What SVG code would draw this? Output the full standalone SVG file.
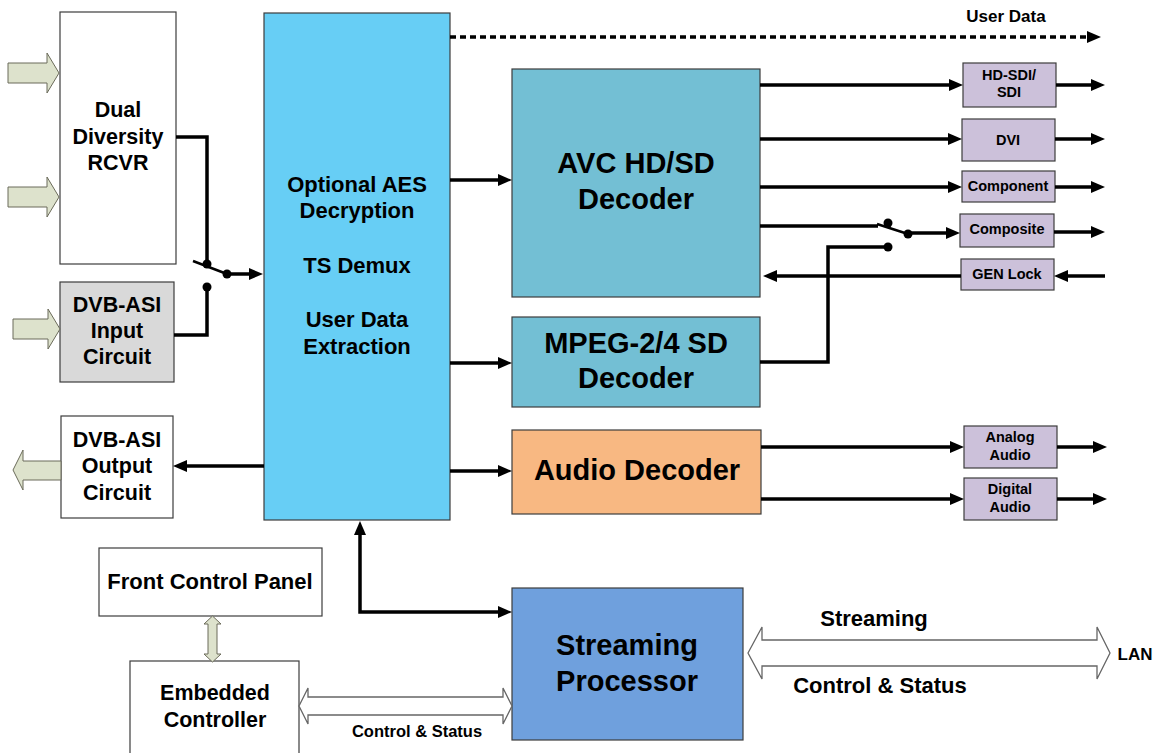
<svg xmlns="http://www.w3.org/2000/svg" width="1157" height="753" viewBox="0 0 1157 753">
<style>
text{font-family:"Liberation Sans",Arial,sans-serif;font-weight:bold;fill:#000;text-anchor:middle}
.box{stroke:#3c3c3c;stroke-width:1.2}
.w{fill:#fff}
.pur{fill:#ccc1da}
.t21{font-size:21.5px}
.t29{font-size:29px}
.t15{font-size:14.5px}
.ln{fill:none;stroke:#000;stroke-width:3.5}
.blk{fill:#dde2cc;stroke:#6b6b5a;stroke-width:1}
.wa{fill:#fff;stroke:#666;stroke-width:1.3}
</style>
<defs>
<marker id="ah" viewBox="0 0 14 12" refX="4" refY="6" markerWidth="14" markerHeight="12" markerUnits="userSpaceOnUse" orient="auto-start-reverse">
<path d="M0,0 L14,6 L0,12 z" fill="#000"/>
</marker>
</defs>
<rect width="1157" height="753" fill="#fff"/>

<g id="rcvr"><rect class="box w" x="60" y="12" width="116" height="252"/>
<text class="t21" x="118" y="117">Dual</text><text class="t21" x="118" y="144">Diversity</text><text class="t21" x="118" y="170">RCVR</text></g>
<g id="asi-in"><rect class="box" fill="#d9d9d9" x="60" y="282" width="114" height="100"/>
<text class="t21" x="117" y="312">DVB-ASI</text><text class="t21" x="117" y="338">Input</text><text class="t21" x="117" y="364">Circuit</text></g>
<g id="asi-out"><rect class="box w" x="61" y="416" width="112" height="102"/>
<text class="t21" x="117" y="447">DVB-ASI</text><text class="t21" x="117" y="473">Output</text><text class="t21" x="117" y="500">Circuit</text></g>
<g id="fcp"><rect class="box w" x="99" y="548" width="223" height="68"/>
<text x="210" y="589" font-size="22">Front Control Panel</text></g>
<g id="embedded"><rect class="box w" x="130" y="661" width="169" height="100"/>
<text class="t21" x="215" y="700">Embedded</text><text class="t21" x="215" y="727">Controller</text></g>
<g id="demux"><rect class="box" fill="#67cef5" x="264" y="13" width="186" height="507"/>
<text x="357" y="192" font-size="22">Optional AES</text><text x="357" y="218" font-size="22">Decryption</text>
<text x="357" y="273" font-size="22">TS Demux</text>
<text x="357" y="327" font-size="22">User Data</text><text x="357" y="354" font-size="22">Extraction</text></g>
<g id="avc"><rect class="box" fill="#73bfd4" x="512" y="69" width="248" height="228"/>
<text class="t29" x="636" y="173">AVC HD/SD</text><text class="t29" x="636" y="209">Decoder</text></g>
<g id="mpeg"><rect class="box" fill="#73bfd4" x="512" y="317" width="248" height="90"/>
<text class="t29" x="636" y="353">MPEG-2/4 SD</text><text class="t29" x="636" y="388">Decoder</text></g>
<g id="audio"><rect class="box" fill="#f8b882" x="512" y="430" width="249" height="84"/>
<text class="t29" x="637" y="480">Audio Decoder</text></g>
<g id="streaming"><rect class="box" fill="#6fa0dd" x="512" y="588" width="231" height="152"/>
<text class="t29" x="627" y="655">Streaming</text><text class="t29" x="627" y="691">Processor</text></g>
<g id="hdsdi"><rect class="box pur" x="963" y="63" width="93" height="44"/>
<text class="t15" x="1009" y="80">HD-SDI/</text><text class="t15" x="1009" y="97">SDI</text></g>
<g id="dvi"><rect class="box pur" x="962" y="119" width="93" height="42"/>
<text class="t15" x="1008" y="145">DVI</text></g>
<g id="component"><rect class="box pur" x="962" y="171" width="93" height="31"/>
<text class="t15" x="1008" y="191">Component</text></g>
<g id="composite"><rect class="box pur" x="960" y="214" width="94" height="33"/>
<text class="t15" x="1007" y="234">Composite</text></g>
<g id="genlock"><rect class="box pur" x="961" y="259" width="93" height="31"/>
<text class="t15" x="1007" y="279">GEN Lock</text></g>
<g id="analog"><rect class="box pur" x="964" y="426" width="93" height="42"/>
<text class="t15" x="1010" y="442">Analog</text><text class="t15" x="1010" y="460">Audio</text></g>
<g id="digital"><rect class="box pur" x="964" y="478" width="93" height="42"/>
<text class="t15" x="1010" y="494">Digital</text><text class="t15" x="1010" y="512">Audio</text></g>

<g id="connectors">
<polygon class="blk" points="8,63 47,63 47,53 59,73 47,93 47,83 8,83"/>
<polygon class="blk" points="8,187 47,187 47,177 59,197 47,217 47,207 8,207"/>
<polygon class="blk" points="13,319 48,319 48,309 60,329 48,349 48,339 13,339"/>
<polygon class="blk" points="13,470 23,450 23,461 61,461 61,480 23,480 23,490"/>
<polygon class="blk" points="212.5,616 221,624 217,624 217,654 221,654 212.5,662 204,654 208,654 208,624 204,624"/>
<polygon class="wa" points="299,706 308,688 308,697 503,697 503,688 512,706 503,724 503,715 308,715 308,724"/>
<polygon class="wa" points="748,653 762,627 762,640 1097,640 1097,627 1110,653 1097,679 1097,666 762,666 762,679"/>

<path class="ln" d="M176,137 H207 V264"/>
<path class="ln" d="M174,335 H207 V287"/>
<line x1="193" y1="261" x2="227" y2="274" stroke="#000" stroke-width="2.5"/>
<circle cx="207" cy="264" r="4.5"/><circle cx="227" cy="274" r="4.5"/><circle cx="207" cy="287" r="4.5"/>
<path class="ln" d="M227,274 H253" marker-end="url(#ah)"/>

<path class="ln" d="M450,180 H502" marker-end="url(#ah)"/>
<path class="ln" d="M450,363 H502" marker-end="url(#ah)"/>
<path class="ln" d="M450,471 H502" marker-end="url(#ah)"/>
<path class="ln" d="M264,466 H183" marker-end="url(#ah)"/>
<path class="ln" d="M360,531 V612 H502" marker-start="url(#ah)" marker-end="url(#ah)"/>
<path class="ln" d="M450,37 H1091" stroke-width="3" stroke-dasharray="6 4" marker-end="url(#ah)"/>

<path class="ln" d="M760,85 H953" marker-end="url(#ah)"/>
<path class="ln" d="M760,139 H952" marker-end="url(#ah)"/>
<path class="ln" d="M760,187 H952" marker-end="url(#ah)"/>
<path class="ln" d="M760,226 H878"/>
<line x1="877" y1="224" x2="908" y2="234" stroke="#000" stroke-width="2.5"/>
<path class="ln" d="M908,233 H950" marker-end="url(#ah)"/>
<path class="ln" d="M760,362 H828 V247 H888"/>
<circle cx="888" cy="223" r="4.5"/><circle cx="908" cy="234" r="4.5"/><circle cx="888" cy="247" r="4.5"/>
<path class="ln" d="M1105,276 H1064" marker-end="url(#ah)"/>
<path class="ln" d="M961,276 H773" marker-end="url(#ah)"/>

<path class="ln" d="M1056,85 H1095" marker-end="url(#ah)"/>
<path class="ln" d="M1055,139 H1095" marker-end="url(#ah)"/>
<path class="ln" d="M1055,187 H1095" marker-end="url(#ah)"/>
<path class="ln" d="M1054,232 H1095" marker-end="url(#ah)"/>
<path class="ln" d="M761,447 H954" marker-end="url(#ah)"/>
<path class="ln" d="M761,499 H954" marker-end="url(#ah)"/>
<path class="ln" d="M1057,447 H1097" marker-end="url(#ah)"/>
<path class="ln" d="M1057,499 H1097" marker-end="url(#ah)"/>

<text x="1006" y="22" font-size="17">User Data</text>
<text x="874" y="626" font-size="22">Streaming</text>
<text x="880" y="693" font-size="22">Control &amp; Status</text>
<text x="1135" y="660" font-size="17">LAN</text>
<text x="417" y="737" font-size="16.5">Control &amp; Status</text>
</g>
</svg>
